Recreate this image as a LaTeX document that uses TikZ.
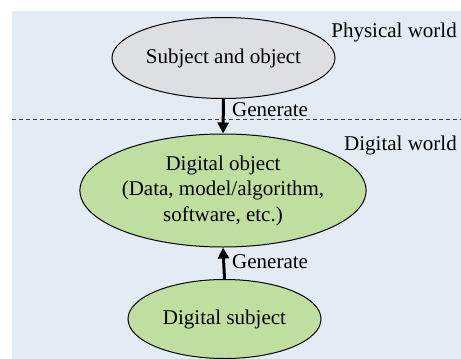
\documentclass[tikz,border=0pt]{standalone}
\usepackage{fontspec}
\setmainfont{Liberation Serif}
\usepackage{xcolor}
\usetikzlibrary{shapes.geometric,arrows.meta}
\definecolor{bgblue}{HTML}{E3EBF5}
\definecolor{ovalgray}{HTML}{DEDFE3}
\definecolor{ovalgreen}{HTML}{BEDFA0}
\tikzset{
  oval/.style={ellipse, draw=black, line width=1pt, inner sep=0pt, align=center, font=\fontsize{21}{25.5}\selectfont},
  genarrow/.style={line width=3pt, -{Triangle[length=11pt,width=11pt]}},
  lbl/.style={font=\fontsize{21}{25}\selectfont, inner sep=0pt}
}
\begin{document}
\begin{tikzpicture}[x=1pt,y=-1pt]
    % Frame and background
    \useasboundingbox (0,0) rectangle (461,359);
    \fill[bgblue] (12,11) rectangle (461,359);
    \draw[dash pattern=on 4pt off 3pt, line width=0.8pt, gray!50!black] (12,119) -- (461,119);

    % World labels
    \node[lbl, anchor=base east] (physical) at (457,37) {Physical world};
    \node[lbl, anchor=base east] (digital) at (457,150) {Digital world};

    % Ellipses
    \node[oval, fill=ovalgray, minimum width=223pt, minimum height=81pt] (subobj) at (223.5,58) {Subject and object};
    \node[oval, fill=ovalgreen, minimum width=262pt, minimum height=113pt] (digobj) at (223,190.5) {Digital object\\(Data, model/algorithm,\\software, etc.)};
    \node[oval, fill=ovalgreen, minimum width=193pt, minimum height=79pt] (digsub) at (224.5,319) {Digital subject};

    % Arrows
    \draw[genarrow] (subobj.south) -- (digobj.north);
    \draw[genarrow] (digsub.north) -- (digobj.south);
    \node[lbl, anchor=base west] (gen1) at (232,116) {Generate};
    \node[lbl, anchor=base west] (gen2) at (232,268) {Generate};
\end{tikzpicture}
\end{document}
